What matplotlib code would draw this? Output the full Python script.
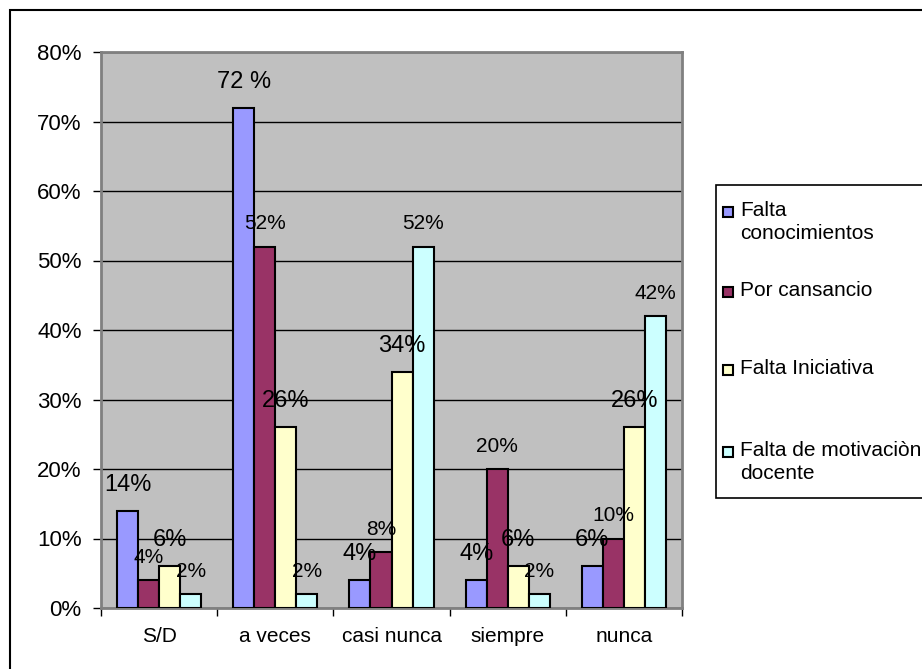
import numpy as np
import matplotlib
matplotlib.use("Agg")
import matplotlib.pyplot as plt
from matplotlib.patches import Rectangle

plt.rcParams['font.family'] = ['Liberation Sans', 'DejaVu Sans']

categories = ["S/D", "a veces", "casi nunca", "siempre", "nunca"]
series_names = ["Falta\nconocimientos", "Por cansancio", "Falta Iniciativa",
                "Falta de motivaciòn\ndocente"]
falta_conoc = [14, 72, 4, 4, 6]
cansancio = [4, 52, 8, 20, 10]
iniciativa = [6, 26, 34, 6, 26]
motivacion = [2, 2, 52, 2, 42]
series = [falta_conoc, cansancio, iniciativa, motivacion]
# the first bar label in "a veces" carries a space in the original
label_text = [[f"{v}%" for v in s] for s in series]
label_text[0][1] = "72 %"

colors = ["#9999FF", "#993366", "#FFFFCC", "#CCFFFF"]
label_size = [17, 15, 17, 15]
label_dy = [26, 23, 26, 23]

W, H = 922, 669
fig = plt.figure(figsize=(W / 100, H / 100), dpi=100)

def fx(px):
    return px / W

def fy(py):
    return 1 - py / H

ax = fig.add_axes([fx(101), fy(608), fx(581), 556 / H])
ax.set_facecolor("#C0C0C0")

x = np.arange(len(categories))
w = 0.181
for i, vals in enumerate(series):
    pos = x + (i - 1.5) * w
    ax.bar(pos, vals, width=w, color=colors[i], edgecolor="black",
           linewidth=1.5, zorder=3)
    for xp, v, t in zip(pos, vals, label_text[i]):
        ax.annotate(t, (xp, v), xytext=(0, label_dy[i]),
                    textcoords="offset pixels", ha="center", va="center",
                    fontsize=label_size[i], zorder=4)

ax.set_xlim(-0.5, len(categories) - 0.5)
ax.set_ylim(0, 80)
ax.set_yticks(np.arange(0, 81, 10))
ax.set_yticklabels([f"{v}%" for v in range(0, 81, 10)])
ax.yaxis.grid(True, color="black", linewidth=1)
ax.set_axisbelow(True)

ax.set_xticks(x)
ax.set_xticklabels(categories)
ax.set_xticks(np.arange(-0.5, len(categories), 1), minor=True)
ax.tick_params(axis="x", which="major", length=0, pad=14, labelsize=15)
ax.tick_params(axis="x", which="minor", length=6, direction="out", width=1)
ax.tick_params(axis="y", length=6, direction="out", width=1, pad=8,
               labelsize=16)

for s in ax.spines.values():
    s.set_color("#808080")
    s.set_linewidth(2)

# outer chart border
fig.add_artist(Rectangle((fx(10), -0.1), 1.2, fy(10) + 0.1,
                         transform=fig.transFigure, fill=False,
                         edgecolor="black", linewidth=1.5))

# legend box, runs off the right edge like the original
fig.add_artist(Rectangle((fx(716), fy(498)), 0.3, (498 - 185) / H,
                         transform=fig.transFigure, facecolor="white",
                         edgecolor="black", linewidth=1.2))
legend_y = [212, 292, 370, 452]
for name, c, ly in zip(series_names, colors, legend_y):
    fig.add_artist(Rectangle((fx(723), fy(ly + 5)), 10 / W, 10 / H,
                             transform=fig.transFigure, facecolor=c,
                             edgecolor="black", linewidth=1.5))
    fig.text(fx(740), fy(ly - 11), name, ha="left", va="top",
             fontsize=15, linespacing=1.25)

fig.savefig("out.png", dpi=100)
